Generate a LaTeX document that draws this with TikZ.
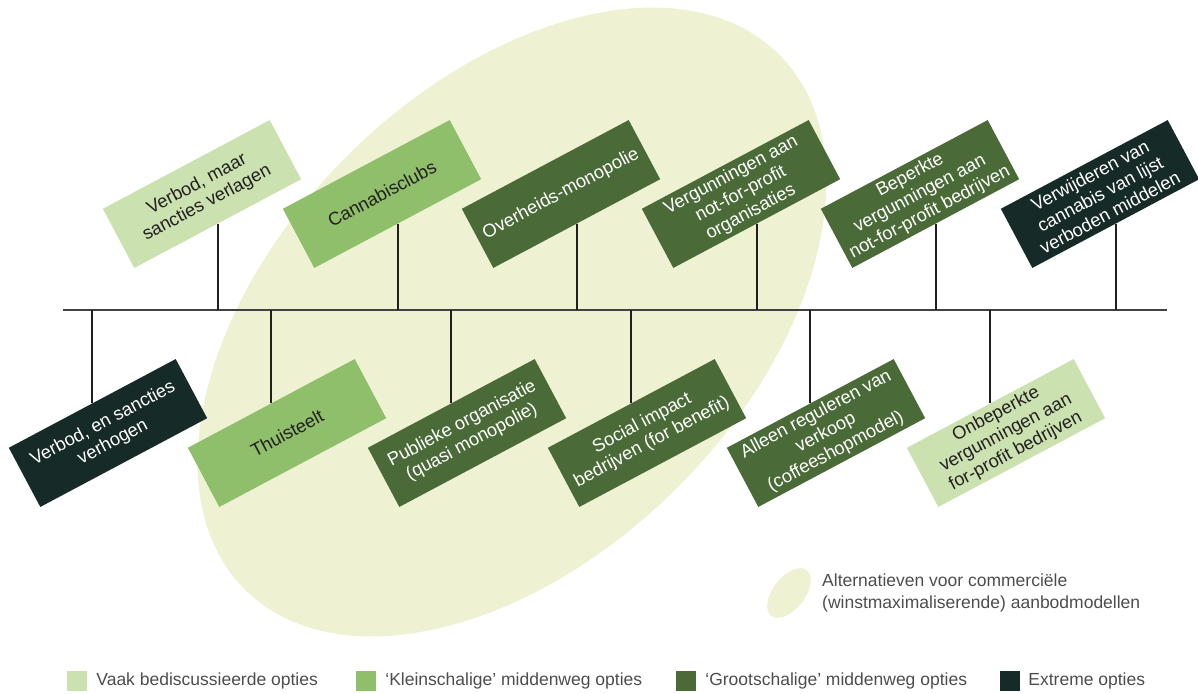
\documentclass[tikz,border=0pt]{standalone}
\usepackage{fontspec}
\setmainfont{Liberation Sans}
\usepackage{xcolor}
\usepackage{tikz}
\usetikzlibrary{positioning}

\definecolor{optlight}{HTML}{CBE2B0}
\definecolor{optsmall}{HTML}{8FBF6A}
\definecolor{optlarge}{HTML}{4A6B37}
\definecolor{optextreme}{HTML}{162A27}
\definecolor{altfill}{HTML}{EEF2D3}
\definecolor{inkdark}{HTML}{231F20}
\definecolor{legendgray}{HTML}{4D4D4D}

\tikzset{
  optbox/.style={rectangle, rotate=28, minimum width=189pt, minimum height=67pt,
    inner sep=0pt, align=center, font=\fontsize{18.3}{21}\selectfont},
  vaak/.style={optbox, fill=optlight, text=inkdark},
  klein/.style={optbox, fill=optsmall, text=inkdark},
  groot/.style={optbox, fill=optlarge, text=white},
  extreem/.style={optbox, fill=optextreme, text=white},
  spineline/.style={line width=2.5pt, draw=inkdark!85},
  stemline/.style={line width=2pt, draw=inkdark},
  legsq/.style={rectangle, minimum size=20pt, inner sep=0pt},
  legtext/.style={inner sep=0pt, text=legendgray, font=\fontsize{17.5}{22}\selectfont}
}

\begin{document}
\begin{tikzpicture}[x=1pt,y=-1pt]
  \useasboundingbox (0,0) rectangle (1198,693);

  % alternatieven
  \fill[altfill, rotate around={45:(512,322)}] (512,322) ellipse (378 and 234);

  % opties boven
  \node[vaak] (verbodmaar) at (202,194) {Verbod, maar\\sancties verlagen};
  \node[klein] (clubs) at (382,194) {Cannabisclubs};
  \node[groot] (monopolie) at (561,194) {Overheids-monopolie};
  \node[groot] (nonprofit) at (741,194) {Vergunningen aan\\not-for-profit\\organisaties};
  \node[groot] (beperkt) at (920,194) {Beperkte\\vergunningen aan\\not-for-profit bedrijven};
  \node[extreem] (schrappen) at (1100,194) {Verwijderen van\\cannabis van lijst\\verboden middelen};

  % opties onder
  \node[extreem] (verbodhoger) at (108,433) {Verbod, en sancties\\verhogen};
  \node[klein] (thuisteelt) at (287,433) {Thuisteelt};
  \node[groot] (publiek) at (467,433) {Publieke organisatie\\(quasi monopolie)};
  \node[groot] (socialimpact) at (647,433) {Social impact\\bedrijven (for benefit)};
  \node[groot] (coffeeshop) at (826,433) {Alleen reguleren van\\verkoop\\(coffeeshopmodel)};
  \node[vaak] (onbeperkt) at (1006,433) {Onbeperkte\\vergunningen aan\\for-profit bedrijven};

  % as
  \coordinate (spineL) at (63,310);
  \coordinate (spineR) at (1167,310);
  \draw[spineline] (spineL) -- (spineR);
  \foreach \n in {verbodmaar,clubs,monopolie,nonprofit,beperkt,schrappen}
    \draw[stemline] (\n.south) -- (\n.south |- spineL);
  \foreach \n in {verbodhoger,thuisteelt,publiek,socialimpact,coffeeshop,onbeperkt}
    \draw[stemline] (\n.north) -- (\n.north |- spineL);

  % legenda
  \fill[altfill, rotate around={52:(789,593)}] (789,593) ellipse (29 and 16);
  \node[legtext, anchor=west, align=left] (altlabel) at (822,593)
    {Alternatieven voor commerciële\\(winstmaximaliserende) aanbodmodellen};

  \node[legsq, fill=optlight] (lvaak) at (77,681) {};
  \node[legtext, right=9pt of lvaak] {Vaak bediscussieerde opties};
  \node[legsq, fill=optsmall] (lklein) at (366,681) {};
  \node[legtext, right=9pt of lklein] {‘Kleinschalige’ middenweg opties};
  \node[legsq, fill=optlarge] (lgroot) at (686,681) {};
  \node[legtext, right=9pt of lgroot] {‘Grootschalige’ middenweg opties};
  \node[legsq, fill=optextreme] (lextreem) at (1010,681) {};
  \node[legtext, right=8pt of lextreem] {Extreme opties};
\end{tikzpicture}
\end{document}
